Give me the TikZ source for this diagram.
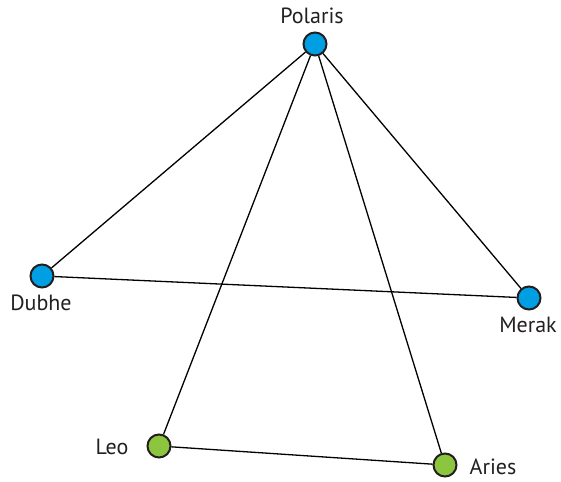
\documentclass[tikz,border=0pt]{standalone}
\usepackage{fontspec}
\setmainfont{PT Sans}
\definecolor{starblue}{HTML}{009FE3}
\definecolor{stargreen}{HTML}{8CC63F}
\definecolor{rim}{HTML}{231F20}
\begin{document}
\begin{tikzpicture}[x=1pt,y=-1pt,
  star/.style={circle,draw=rim,line width=2pt,minimum size=23pt,inner sep=0pt},
  bluestar/.style={star,fill=starblue},
  greenstar/.style={star,fill=stargreen},
  lbl/.style={font=\fontsize{22}{25}\selectfont,text=rim,inner sep=0pt},
  edge/.style={draw=black,line width=1.3pt}]
\useasboundingbox (0,0) rectangle (561,481);
\node[bluestar] (polaris) at (315,44) {};
\node[bluestar] (dubhe) at (42,276) {};
\node[bluestar] (merak) at (529,298) {};
\node[greenstar] (leo) at (159,446) {};
\node[greenstar] (aries) at (445,465) {};
\draw[edge] (polaris) -- (dubhe);
\draw[edge] (polaris) -- (merak);
\draw[edge] (polaris) -- (leo);
\draw[edge] (polaris) -- (aries);
\draw[edge] (dubhe) -- (merak);
\draw[edge] (leo) -- (aries);
\node[lbl] (tpolaris) at (312,16) {Polaris};
\node[lbl] (tdubhe) at (41,303) {Dubhe};
\node[lbl] (tmerak) at (528,325) {Merak};
\node[lbl] (tleo) at (112,447) {Leo};
\node[lbl] (taries) at (493,467) {Aries};
\end{tikzpicture}
\end{document}
